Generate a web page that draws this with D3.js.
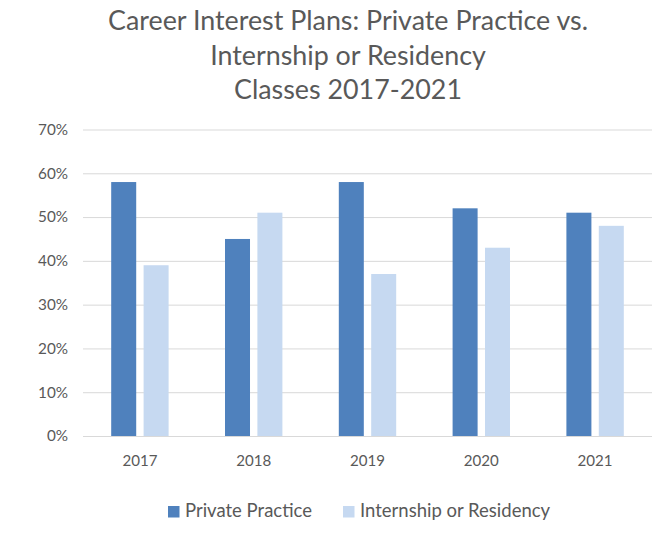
<!DOCTYPE html>
<html>
<head>
<meta charset="utf-8">
<script src="https://cdn.jsdelivr.net/npm/d3@7"></script>
<style>
  html, body { margin: 0; padding: 0; background: #fff; }
  svg { display: block; }
  text { font-family: Lato, "Liberation Sans", sans-serif; fill: #595959; }
</style>
</head>
<body>
<svg id="chart" width="668" height="534"></svg>
<script>
const titleLines = ["Career Interest Plans: Private Practice vs.", "Internship or Residency", "Classes 2017-2021"];
const categories = ["2017", "2018", "2019", "2020", "2021"];
const seriesNames = ["Private Practice", "Internship or Residency"];
const privatePractice = [58, 45, 58, 52, 51];
const internshipResidency = [39, 51, 37, 43, 48];
const yTicks = [0, 10, 20, 30, 40, 50, 60, 70];
const colors = ["#4F81BD", "#C6D9F1"];

const FONT = 'Lato, "Liberation Sans", sans-serif';
const W = 668, H = 534;
const plot = { left: 83, right: 652, top: 129.5, bottom: 436 };
const svg = d3.select("#chart");

// helper: fit font size so the given text reaches target width
function fitSize(sample, target, base) {
  const t = svg.append("text").attr("font-size", base).text(sample);
  const w = t.node().getComputedTextLength();
  t.remove();
  return base * target / w;
}

const series = seriesNames.map((name, i) => ({ name, values: i === 0 ? privatePractice : internshipResidency }));

const x0 = d3.scaleBand().domain(categories).range([plot.left, plot.right]).padding(0);
const groupW = 57.4;
const x1 = d3.scaleBand().domain(seriesNames).range([0, groupW]).paddingInner(0.228).paddingOuter(0);
const y = d3.scaleLinear().domain([0, 70]).range([plot.bottom, plot.top]);

// Title
const titleSize = fitSize(titleLines[0], 480, 24);
const titleBase = [30, 65, 99];
svg.append("g").selectAll("text").data(titleLines).join("text")
  .attr("x", 348).attr("y", (d, i) => titleBase[i])
  .attr("text-anchor", "middle").attr("font-size", titleSize).text(d => d);

// Y axis with gridlines
const axisSize = fitSize("70%", 30, 16);
const yAxis = d3.axisLeft(y).tickValues(yTicks).tickFormat(d => d + "%")
  .tickSize(-(plot.right - plot.left)).tickPadding(15);
const gy = svg.append("g").attr("transform", `translate(${plot.left},0)`).call(yAxis);
gy.select(".domain").remove();
gy.selectAll(".tick line").attr("stroke", "#d9d9d9").attr("stroke-width", 1);
gy.selectAll(".tick text").attr("font-size", axisSize).attr("fill", "#595959")
  .attr("font-family", FONT);

// Bars
const groups = svg.append("g").selectAll("g").data(categories).join("g")
  .attr("transform", d => `translate(${x0(d) + (x0.bandwidth() - groupW) / 2},0)`);
groups.selectAll("rect").data((d, ci) => series.map((s, si) => ({ name: s.name, v: s.values[ci], si })))
  .join("rect")
  .attr("x", d => x1(d.name))
  .attr("width", x1.bandwidth())
  .attr("y", d => y(d.v))
  .attr("height", d => y(0) - y(d.v))
  .attr("fill", d => colors[d.si]);

// X axis
const xSize = fitSize("2017", 35, 16);
const xAxis = d3.axisBottom(x0).tickSize(0).tickPadding(0);
const gx = svg.append("g").attr("transform", `translate(0,${plot.bottom})`).call(xAxis);
gx.select(".domain").remove();
gx.selectAll(".tick text").attr("font-size", xSize).attr("fill", "#595959")
  .attr("dy", null).attr("y", 30)
  .attr("font-family", FONT);

// Legend
const legSize = fitSize(seriesNames[0], 127, 18);
const legX = [168, 343];
const leg = svg.append("g").selectAll("g").data(seriesNames).join("g")
  .attr("transform", (d, i) => `translate(${legX[i]},506)`);
leg.append("rect").attr("width", 11.5).attr("height", 11.5).attr("fill", (d, i) => colors[i]);
leg.append("text").attr("x", 17).attr("y", 11).attr("font-size", legSize).text(d => d);
</script>
</body>
</html>
